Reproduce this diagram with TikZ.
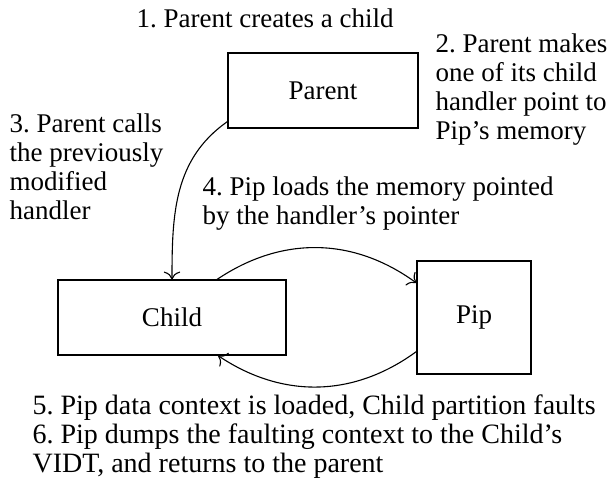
\documentclass[tikz,border=0pt]{standalone}
\usepackage{fontspec}
\setmainfont{Liberation Serif}
\usetikzlibrary{positioning, arrows.meta}
\tikzset{box/.style={draw, inner sep=0pt}}
\frenchspacing

\begin{document}
\begin{tikzpicture}[>={To[scale=1.4]}, line width=0.55pt, x=0.5pt, y=-0.5pt, font=\fontsize{13.5}{14.5}\selectfont, note/.style={align=left, inner sep=0pt, anchor=base west}]
\useasboundingbox (0,0) rectangle (609,479);
\node[box, minimum width=95pt, minimum height=37.5pt] (parent) at (323,90.5) {Parent};
\node[box, minimum width=114pt, minimum height=37.5pt] (child) at (172,317.5) {Child};
\node[box, minimum width=57pt, minimum height=56.5pt] (pip) at (474,317.5) {Pip};
% last baseline of each note
\node[note] (s1) at (136,27) {1. Parent creates a child};
\node[note] (s2) at (435,139) {2. Parent makes\\one of its child\\handler point to\\Pip's memory};
\node[note] (s3) at (9,219) {3. Parent calls\\the previously\\modified\\handler};
\node[note] (s4) at (202,224) {4. Pip loads the memory pointed\\by the handler's pointer};
\node[note, font=\fontsize{14}{14.3}\selectfont] (s5) at (32,472) {5. Pip data context is loaded, Child partition faults\\6. Pip dumps the faulting context to the Child's\\VIDT, and returns to the parent};
\draw [->] ([yshift=3.5pt]parent.south west) to [out=215, in=90] (child.north);
\draw [->] ([xshift=22.5pt]child.north) to [bend left=35] ([yshift=17.25pt]pip.west);
\draw [->] ([yshift=-17pt]pip.west) to [bend left=35] ([xshift=23pt]child.south);
\end{tikzpicture}
\end{document}
